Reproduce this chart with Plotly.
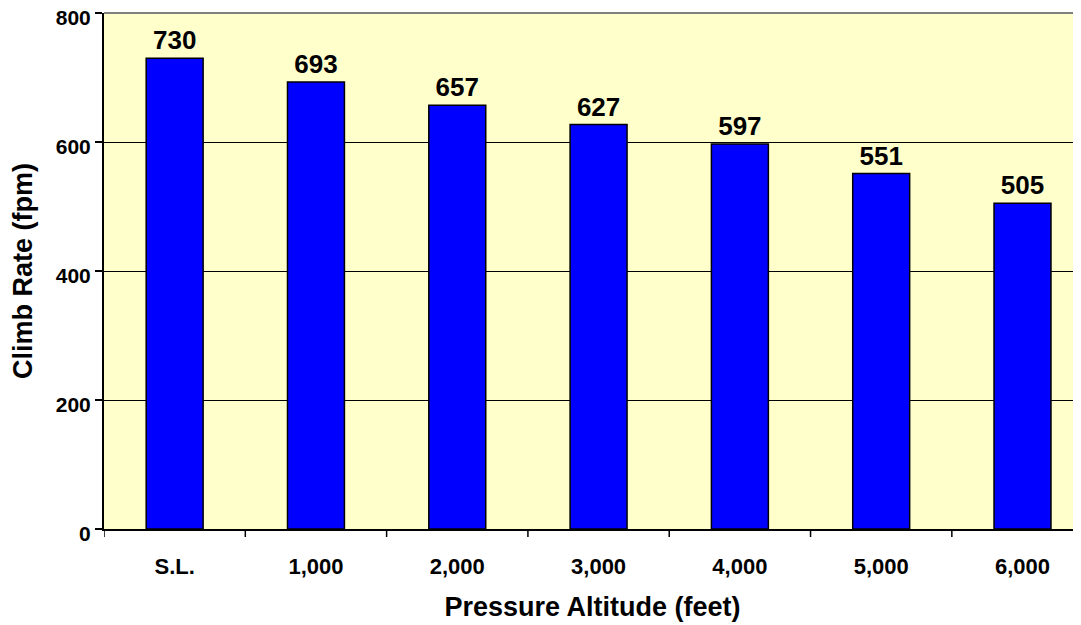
import plotly.graph_objects as go

categories = ["S.L.", "1,000", "2,000", "3,000", "4,000", "5,000", "6,000"]
climb_rate = [730, 693, 657, 627, 597, 551, 505]
y_ticks = [0, 200, 400, 600, 800]

FONT = "Liberation Sans, Arial, sans-serif"

fig = go.Figure()
fig.add_trace(go.Bar(
    x=list(range(len(categories))),
    y=climb_rate,
    width=0.403,
    marker=dict(color="#0000FF", line=dict(color="black", width=1.5)),
    text=["<b>%d</b>" % v for v in climb_rate],
    textposition="outside",
    textfont=dict(family=FONT, size=26, color="black"),
    cliponaxis=False,
))

# page body has an 8px margin; shrink the figure so the plot lands where the reference has it
fig.update_layout(
    width=1073, height=617,
    margin=dict(l=96, r=0, t=5, b=96),
    paper_bgcolor="white",
    plot_bgcolor="#FFFFCC",
    font=dict(family=FONT, color="black"),
    showlegend=False,
)
fig.update_xaxes(
    range=[-0.5, 6.414],
    automargin="bottom",
    tickmode="array",
    tickvals=list(range(len(categories))),
    ticktext=["<b>%s</b>" % c for c in categories],
    tickfont=dict(family=FONT, size=22, color="black"),
    ticks="",
    ticklabelstandoff=17,
    showgrid=False,
    showline=True, linecolor="black", linewidth=2,
    title=dict(text="<b>Pressure Altitude (feet)</b>", font=dict(family=FONT, size=27), standoff=19),
    zeroline=False,
)
fig.update_yaxes(
    range=[0, 800],
    automargin="left",
    tickvals=y_ticks,
    ticktext=["<b>%d</b>" % v for v in y_ticks],
    tickfont=dict(family=FONT, size=21, color="black"),
    ticklabeloverflow="allow",
    ticklabelshift=5,
    ticks="outside", ticklen=7, tickcolor="black", tickwidth=1.5,
    showgrid=True, gridcolor="black", gridwidth=1,
    showline=True, linecolor="black", linewidth=2,
    zeroline=False,
    title=dict(text="<b>Climb Rate (fpm)</b>", font=dict(family=FONT, size=27), standoff=18),
)

# category separator ticks on x axis
for i in range(len(categories)):
    fig.add_shape(type="line", xref="x", yref="paper",
                  x0=i - 0.5, x1=i - 0.5, y0=0, y1=-0.0155,
                  line=dict(color="black", width=1.5))
# top border in gray
fig.add_shape(type="line", xref="paper", yref="paper", x0=0, x1=1, y0=1, y1=1,
              line=dict(color="#808080", width=2))

fig.write_html("out.html")
